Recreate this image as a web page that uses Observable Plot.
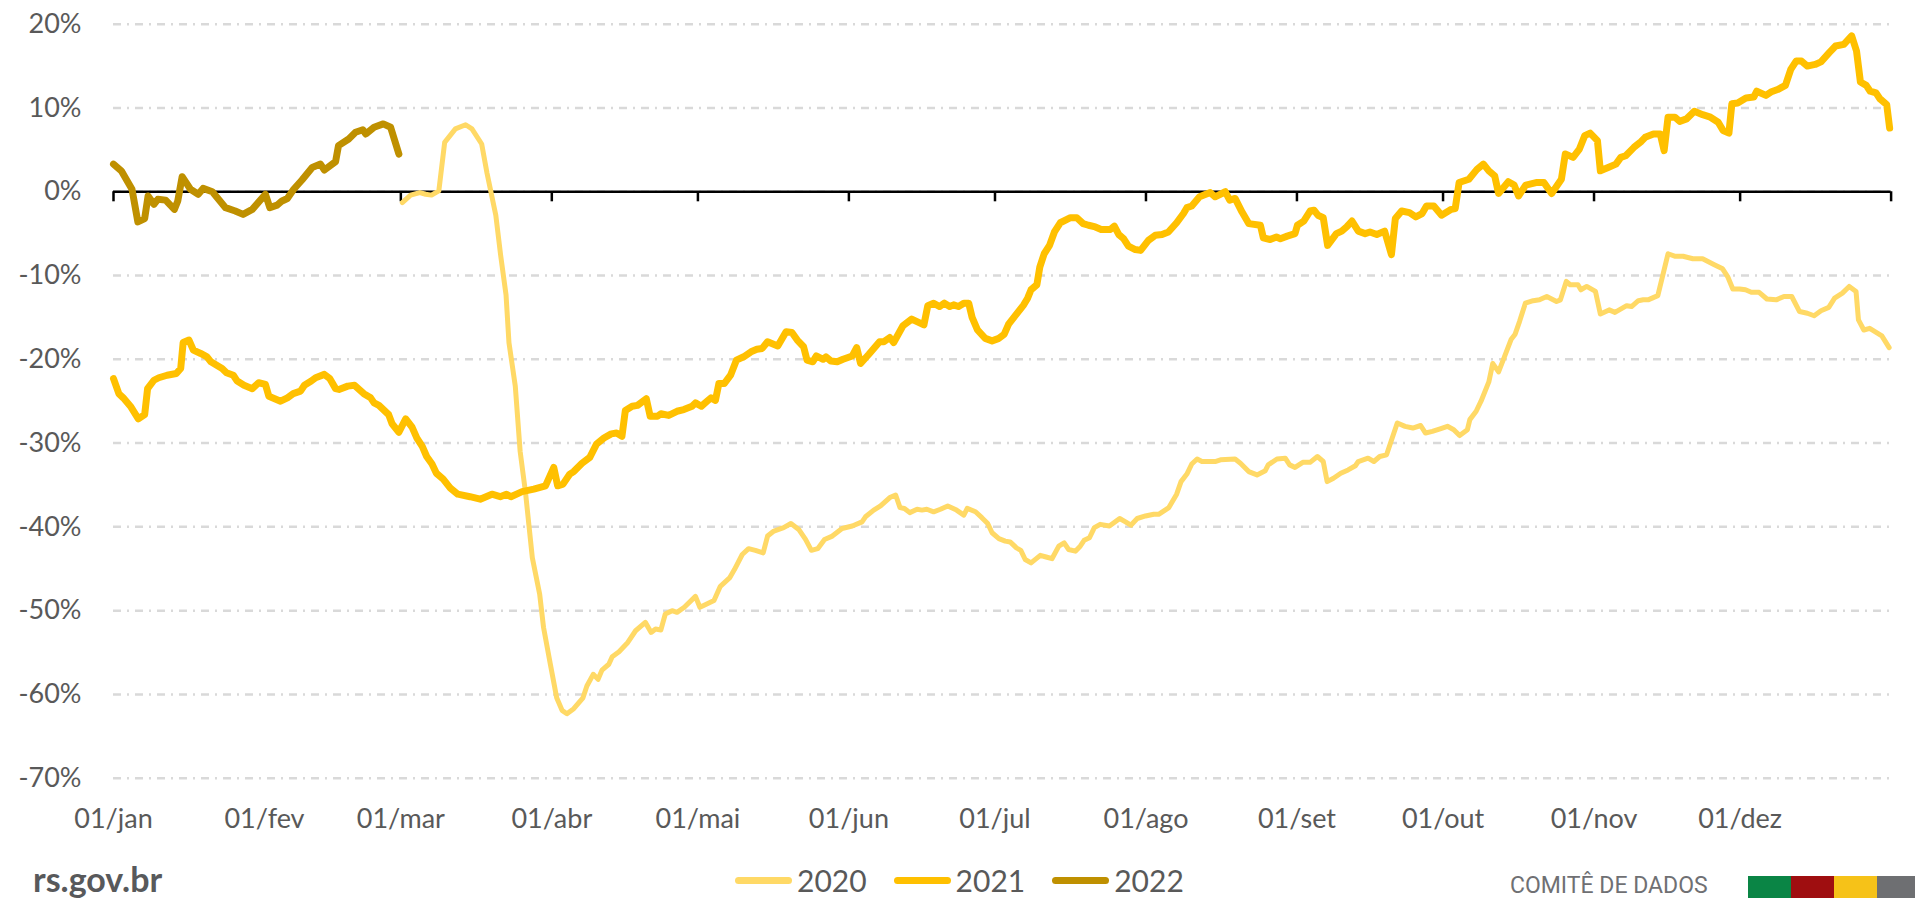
<!DOCTYPE html>
<html>
<head>
<meta charset="utf-8">
<script src="https://cdn.jsdelivr.net/npm/d3@7"></script>
<script src="https://cdn.jsdelivr.net/npm/@observablehq/plot@0.6"></script>
<style>
  html, body { margin: 0; padding: 0; background: #fff; overflow: hidden; }
  #wrap { position: relative; width: 1915px; height: 898px; overflow: hidden; font-family: Lato, "Open Sans", sans-serif; }
  #chart { position: absolute; left: 0; top: 0; }
  #legend { position: absolute; left: 735px; top: 865px; height: 30px; display: flex; align-items: center; }
  .item { display: flex; align-items: center; margin-right: 27px; }
  .sw { display: inline-block; width: 57px; height: 7px; border-radius: 4px; margin-right: 5px; }
  .lt { font-family: Lato, sans-serif; font-size: 30px; line-height: 30px; color: #595959; }
  #site { position: absolute; left: 33px; top: 862px; font-family: Lato, sans-serif; font-weight: 700; font-size: 34px; line-height: 34px; color: #58595B; }
  #comite { position: absolute; left: 1510px; top: 874px; font-family: Roboto, sans-serif; font-size: 23px; line-height: 23px; color: #6F7073; white-space: nowrap; }
  .blk { position: absolute; top: 876px; height: 30px; }
</style>
</head>
<body>
<div id="wrap">
  <div id="chart"></div>
  <div id="legend"></div>
  <div id="site">rs.gov.br</div>
  <div id="comite">COMITÊ DE DADOS</div>
  <div class="blk" style="left:1748px;width:43px;background:#0A8545"></div>
  <div class="blk" style="left:1791px;width:43px;background:#9F0E10"></div>
  <div class="blk" style="left:1834px;width:43px;background:#F6C218"></div>
  <div class="blk" style="left:1877px;width:38px;background:#6E6F72"></div>
</div>
<script>
// ---- tick labels / categories ----
const monthStarts = [0, 31, 59, 90, 120, 151, 181, 212, 243, 273, 304, 334];
const monthLabels = ["01/jan", "01/fev", "01/mar", "01/abr", "01/mai", "01/jun", "01/jul", "01/ago", "01/set", "01/out", "01/nov", "01/dez"];
const axisTickDays = [0, 31, 59, 90, 120, 151, 181, 212, 243, 273, 304, 334, 365];
const yTicks = [20, 10, 0, -10, -20, -30, -40, -50, -60, -70];
const seriesNames = ["2020", "2021", "2022"];
const seriesColors = ["#FFD966", "#FFC000", "#BF9000"];
const seriesWidths = [5, 7, 7];

// ---- series values: [day of year, % change] ----
const s2020 = [
  [59.3,-1.3],[61,-0.4],[62.9,-0.1],[64.1,-0.3],[65.3,-0.4],[66.8,0.1],[68,5.9],[70.2,7.5],[72.3,8.0],[73.6,7.5],
  [75.6,5.7],[76.7,2.2],[78.5,-2.8],[79.5,-7.6],[80.6,-12.3],[81.2,-18.0],[82.5,-23.2],[83.5,-31],[84.6,-35.9],[86,-43.7],
  [87.5,-48.0],[88.3,-52.0],[89.7,-56.4],[91,-60.4],[92.1,-61.9],[93.1,-62.3],[94.5,-61.7],[96.4,-60.4],[97.2,-59.0],[98.5,-57.6],
  [99.5,-58.2],[100.3,-57.1],[101.7,-56.4],[102.4,-55.5],[103.8,-54.9],[105.6,-53.8],[107.2,-52.4],[109.2,-51.4],[110.4,-52.6],[111.3,-52.2],
  [112.4,-52.3],[113.3,-50.4],[114.7,-50.0],[115.7,-50.2],[117.2,-49.6],[119.5,-48.3],[120.4,-49.6],[121.5,-49.3],[123.3,-48.8],[124.6,-47.1],
  [126.5,-46.1],[127.5,-45.1],[129.1,-43.3],[130.4,-42.6],[131.8,-42.8],[133.4,-43.1],[134.3,-41.1],[135.6,-40.5],[137.6,-40.1],[139.1,-39.6],
  [140.7,-40.3],[142.1,-41.5],[143.3,-42.8],[144.6,-42.6],[146,-41.5],[147.6,-41.1],[149.6,-40.2],[151.7,-39.9],[153.7,-39.4],[154.4,-38.8],
  [156.1,-38.0],[157.5,-37.5],[159.4,-36.5],[160.6,-36.2],[161.5,-37.7],[162.4,-37.8],[163.5,-38.3],[165,-37.9],[166,-38.0],[167,-37.9],
  [168.4,-38.2],[169.8,-37.9],[171.3,-37.5],[173.1,-38.0],[174.6,-38.6],[175.3,-37.8],[177,-38.2],[178.3,-38.9],[179.5,-39.6],[180.4,-40.7],
  [181.8,-41.4],[183.1,-41.7],[184.1,-41.8],[185.4,-42.5],[186.3,-42.8],[187.2,-43.9],[188.4,-44.3],[190.3,-43.4],[191.5,-43.6],[192.7,-43.8],
  [194.1,-42.3],[195.2,-41.9],[196.1,-42.7],[197.5,-42.9],[198.5,-42.3],[199.3,-41.6],[200.4,-41.3],[201.4,-40.1],[202.6,-39.7],[204.5,-39.9],
  [206.6,-39.0],[207.8,-39.4],[208.9,-39.8],[210.2,-39.0],[211.9,-38.7],[213.6,-38.5],[214.6,-38.5],[216.7,-37.7],[218.3,-36.1],[219.2,-34.6],
  [220.4,-33.7],[221.4,-32.5],[222.5,-31.9],[223.5,-32.2],[226.2,-32.2],[227.3,-32.0],[230.3,-31.9],[231.4,-32.4],[233.1,-33.4],[234.8,-33.8],
  [236.5,-33.3],[237.1,-32.6],[238.9,-31.9],[240.6,-31.8],[241.5,-32.6],[242.6,-32.9],[244.2,-32.3],[245.7,-32.3],[247.2,-31.6],[248.4,-32.2],
  [249.2,-34.6],[250.5,-34.2],[252,-33.6],[253.5,-33.2],[255,-32.7],[255.6,-32.2],[257.6,-31.8],[258.8,-32.2],[260,-31.6],[261.4,-31.4],
  [263.6,-27.6],[265.2,-28.0],[266.8,-28.2],[268.4,-27.9],[269.4,-28.8],[270.8,-28.6],[272.4,-28.3],[273.9,-28.0],[275.2,-28.4],[276.4,-29.1],
  [278,-28.4],[278.5,-27.2],[279.8,-26.2],[280.8,-25.0],[282.4,-22.7],[283.2,-20.5],[284.4,-21.5],[285.6,-19.7],[287,-17.6],[287.8,-17.0],
  [288.7,-15.5],[289.9,-13.3],[291.5,-13.0],[292.8,-12.9],[294.3,-12.5],[296.3,-13.1],[297.1,-12.9],[298.3,-10.7],[299.1,-11.1],[300.7,-11.1],
  [301.3,-11.7],[302.5,-11.3],[304.3,-11.9],[305.3,-14.6],[307.1,-14.1],[308.3,-14.4],[310.7,-13.6],[311.7,-13.7],[313.1,-13.0],[314.1,-12.9],
  [315.1,-12.9],[317.1,-12.4],[319.2,-7.4],[320.7,-7.7],[322.3,-7.7],[324.3,-8.0],[326.3,-8.0],[328.7,-8.7],[330.4,-9.2],[331.5,-10.2],
  [332.5,-11.6],[333.9,-11.6],[335.1,-11.7],[336.3,-12.0],[337.9,-12.0],[339.5,-12.8],[341.4,-12.9],[343,-12.5],[344.6,-12.5],[346.2,-14.3],
  [347.8,-14.5],[349.2,-14.8],[350.6,-14.2],[352.2,-13.8],[353.4,-12.7],[355,-12.1],[356.4,-11.3],[357.8,-11.9],[358.3,-15.3],[359.4,-16.5],
  [360.6,-16.3],[363.1,-17.2],[364.6,-18.6]
];

const s2021 = [
  [0,-22.3],[1.1,-24.1],[2,-24.6],[3.6,-25.7],[5.1,-27.1],[6.4,-26.6],[7,-23.5],[8.3,-22.5],[9.3,-22.2],[11,-21.9],
  [12.9,-21.7],[13.8,-21.1],[14.3,-18.0],[15.5,-17.7],[16.4,-18.9],[17.9,-19.3],[19.2,-19.7],[20,-20.3],[22.3,-21.1],[23.2,-21.6],
  [24.6,-21.9],[25.4,-22.6],[26.8,-23.1],[28.5,-23.5],[29.8,-22.8],[31.2,-23.0],[31.9,-24.4],[34.3,-25.0],[35.7,-24.6],[36.9,-24.1],
  [38.4,-23.8],[39.2,-23.1],[40.6,-22.6],[41.5,-22.2],[43.3,-21.8],[44.4,-22.3],[45.6,-23.5],[46.3,-23.6],[48.1,-23.2],[49.5,-23.1],
  [51.4,-24.1],[52.8,-24.6],[53.5,-25.2],[54.5,-25.5],[56.5,-26.6],[57.2,-27.7],[58.6,-28.7],[60,-27.1],[61.3,-28.1],[62.3,-29.4],
  [63.4,-30.4],[64.3,-31.6],[65.4,-32.5],[66.3,-33.6],[67.7,-34.3],[69.2,-35.4],[70.7,-36.1],[73.2,-36.4],[75.3,-36.7],[77.7,-36.1],
  [79.4,-36.4],[80.7,-36.1],[81.6,-36.4],[83.9,-35.8],[86.3,-35.5],[88.7,-35.1],[90.4,-32.9],[91.2,-35.1],[92.3,-34.9],[93.7,-33.7],
  [94.5,-33.4],[96.2,-32.4],[97.8,-31.7],[99.2,-30.1],[100.7,-29.4],[102.2,-28.9],[103.3,-28.8],[104.4,-29.2],[105.1,-26.1],[106.5,-25.6],
  [107.6,-25.5],[109.4,-24.7],[110.2,-26.8],[111.7,-26.8],[112.4,-26.5],[114,-26.7],[115.7,-26.2],[117.1,-26.0],[118.8,-25.6],[119.5,-25.2],
  [120.7,-25.6],[121.9,-25.0],[122.7,-24.6],[123.6,-24.9],[124.3,-22.9],[125.4,-22.9],[126.7,-21.9],[127.9,-20.1],[129.4,-19.7],[130.9,-19.1],
  [132.1,-18.8],[133.2,-18.7],[134.3,-17.9],[136.4,-18.4],[138.1,-16.7],[139.3,-16.8],[140.4,-17.7],[141.7,-18.5],[142.4,-20.1],[143.6,-20.3],
  [144.3,-19.6],[145.7,-20.0],[146.3,-19.7],[147.3,-20.2],[148.6,-20.3],[149.8,-20.0],[151.7,-19.6],[152.6,-18.6],[153.4,-20.5],[155.1,-19.4],
  [157.3,-17.9],[158.2,-17.9],[159.4,-17.4],[160.2,-18.0],[162.1,-16.0],[163.9,-15.2],[166.4,-15.9],[167.2,-13.6],[168.4,-13.3],[169.6,-13.7],
  [170.6,-13.3],[171.7,-13.7],[172.5,-13.5],[173.5,-13.7],[174.6,-13.3],[175.6,-13.3],[176.3,-15.0],[177.4,-16.5],[179,-17.5],[180.4,-17.8],
  [181.8,-17.5],[182.9,-17.0],[183.8,-15.8],[185.4,-14.6],[186.9,-13.5],[187.7,-12.7],[188.4,-11.7],[189.6,-11.1],[190.2,-9.0],[191.1,-7.4],
  [192.2,-6.4],[193.2,-4.8],[194.4,-3.7],[196.5,-3.1],[197.8,-3.1],[199.1,-3.8],[200.2,-4.0],[201.6,-4.2],[202.8,-4.5],[204.7,-4.5],
  [205.5,-4.1],[206.4,-5.1],[207.4,-5.6],[208.4,-6.5],[209.8,-6.9],[210.9,-7.0],[212.5,-5.8],[213.9,-5.2],[215.3,-5.1],[216.6,-4.8],
  [218.3,-3.7],[219.7,-2.6],[220.4,-1.9],[221.4,-1.7],[223,-0.6],[225.2,-0.1],[226.2,-0.6],[228.3,0],[229.2,-1.0],[230.3,-0.8],
  [231.7,-2.4],[233.1,-3.8],[235.5,-4.0],[236.1,-5.5],[237.5,-5.7],[238.8,-5.4],[239.6,-5.6],[241,-5.3],[242.6,-5.0],[243.1,-4.0],
  [244.4,-3.5],[245.7,-2.3],[246.5,-2.2],[247.3,-2.8],[248.4,-3.1],[249.3,-6.4],[251.1,-5.0],[252.2,-4.7],[253.2,-4.2],[254.3,-3.5],
  [255.6,-4.7],[257,-5.0],[258,-4.8],[259.4,-5.1],[261,-4.7],[262.4,-7.5],[263.2,-3.2],[264.5,-2.3],[266.1,-2.5],[267.4,-3.0],
  [268.7,-2.6],[269.6,-1.7],[271.1,-1.7],[272.7,-2.8],[274.7,-2.1],[275.5,-2.0],[276.3,1.1],[278.3,1.5],[280,2.7],[281.3,3.3],
  [282.4,2.5],[283.6,1.9],[284.4,-0.2],[286.4,1.2],[287.6,0.8],[288.5,-0.5],[290,0.8],[292.1,1.1],[293.7,1.1],[295.3,-0.2],
  [297.3,1.5],[298.1,4.5],[299.7,4.1],[301,5.1],[302.1,6.7],[303.2,7.0],[304.7,6.1],[305.3,2.5],[306.9,2.9],[308.5,3.3],
  [309.5,4.1],[310.5,4.3],[312.2,5.3],[313.7,6.0],[314.5,6.5],[316.2,6.9],[317.6,6.9],[318.4,4.9],[319.2,8.9],[320.6,8.9],
  [321.6,8.4],[323,8.7],[324.6,9.6],[326.3,9.2],[327.9,8.9],[329.5,8.3],[330.5,7.3],[331.7,7.0],[332.3,10.5],[333.5,10.6],
  [335.2,11.2],[336.8,11.3],[337.4,12.0],[339.3,11.5],[340.3,11.9],[341.7,12.2],[343.3,12.7],[344.4,14.6],[345.5,15.6],[346.6,15.6],
  [347.8,15.0],[349.4,15.2],[350.6,15.5],[352.3,16.6],[353.6,17.4],[355.3,17.6],[356.9,18.6],[357.9,16.8],[358.7,13.1],[359.9,12.7],
  [360.7,12.0],[361.9,11.8],[362.7,11.1],[364.1,10.4],[364.7,7.6]
];

const s2022 = [
  [0,3.3],[1.6,2.5],[3.8,0.3],[5,-3.6],[6.4,-3.2],[7.1,-0.5],[8.3,-1.5],[9.1,-0.9],[10.7,-1.0],[12.5,-2.1],
  [13.2,-1.1],[14.1,1.8],[15.8,0.3],[17.4,-0.3],[18.4,0.4],[20.3,0],[23,-1.9],[25,-2.3],[26.6,-2.7],[28.5,-2.1],
  [31.2,-0.3],[32.1,-1.9],[33.6,-1.6],[34.6,-1.1],[35.7,-0.8],[37,0.3],[38.7,1.4],[40.8,2.9],[42.5,3.3],[43.3,2.6],
  [45.6,3.6],[46.2,5.5],[48.3,6.3],[49.7,7.1],[51.2,7.4],[51.8,6.9],[53.5,7.7],[55.4,8.1],[56.9,7.7],[58.6,4.5]
];

const seriesData = [s2020, s2021, s2022];
const labelOf = new Map(monthStarts.map((d, i) => [d, monthLabels[i]]));

const lineMarks = seriesData.map((s, i) =>
  Plot.line(s.map(([day, value]) => ({day, value, year: seriesNames[i]})), {
    x: "day", y: "value",
    stroke: seriesColors[i], strokeWidth: seriesWidths[i],
    strokeLinejoin: "round", strokeLinecap: "round"
  })
);

const chart = Plot.plot({
  width: 1915,
  height: 898,
  marginTop: 23.7,
  marginBottom: 120.3,
  marginLeft: 113,
  marginRight: 24.4,
  x: {domain: [0, 365]},
  y: {domain: [-70, 20]},
  style: {fontFamily: "Lato, sans-serif", color: "#595959", background: "#fff", overflow: "visible"},
  marks: [
    Plot.ruleY(yTicks, {stroke: "#D9D9D9", strokeWidth: 2.5, strokeDasharray: "8,6,2,6"}),
    Plot.axisY(yTicks, {anchor: "left", tickSize: 0, tickPadding: 32, fontSize: 27, tickFormat: d => d + "%", label: null}),
    Plot.axisX(monthStarts, {anchor: "bottom", tickSize: 0, tickPadding: 31, fontSize: 27, tickFormat: d => labelOf.get(d), label: null}),
    Plot.ruleY([0], {stroke: "#000", strokeWidth: 2.5}),
    Plot.ruleX(axisTickDays, {x: d => d, y1: () => 0, y2: () => -1.2, stroke: "#000", strokeWidth: 2.5}),
    ...lineMarks
  ]
});
document.getElementById("chart").appendChild(chart);

// legend
const legend = document.getElementById("legend");
seriesNames.forEach((name, i) => {
  const item = document.createElement("div");
  item.className = "item";
  const sw = document.createElement("span");
  sw.className = "sw";
  sw.style.background = seriesColors[i];
  const t = document.createElement("span");
  t.className = "lt";
  t.textContent = name;
  item.appendChild(sw);
  item.appendChild(t);
  legend.appendChild(item);
});
</script>
</body>
</html>
